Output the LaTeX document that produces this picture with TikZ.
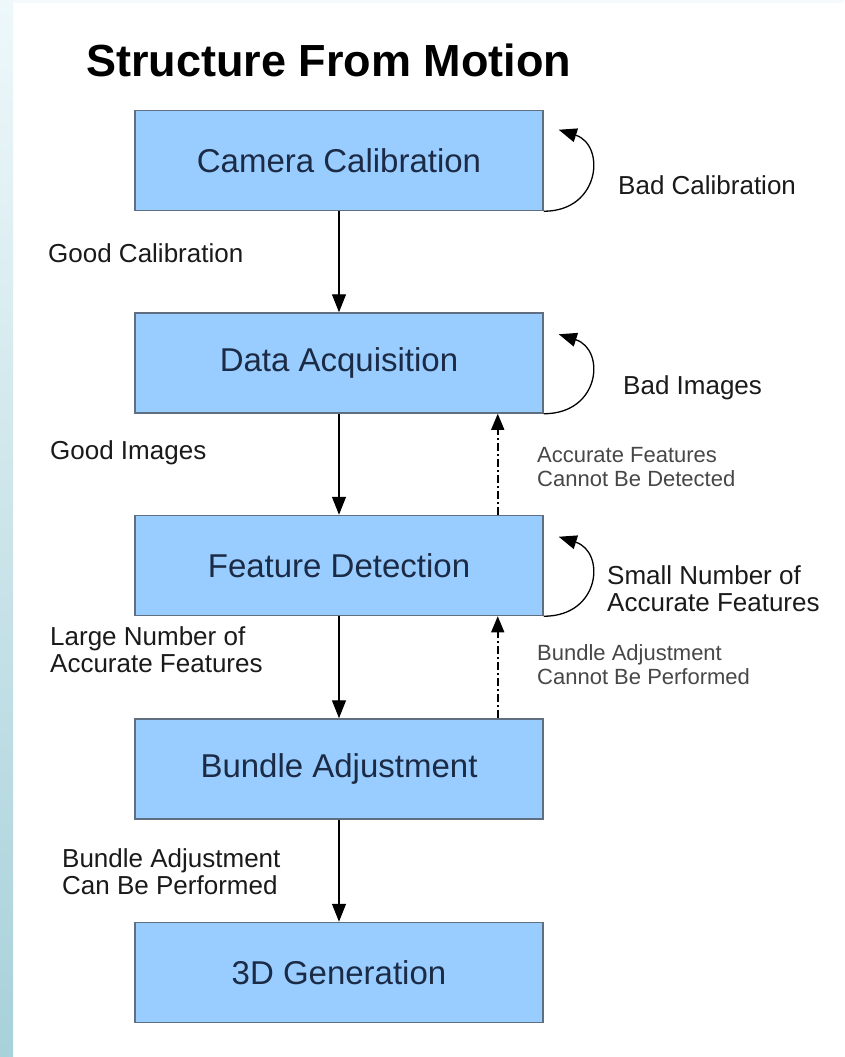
\documentclass[tikz,border=0pt]{standalone}
\usepackage{fontspec}
\setmainfont{Liberation Sans}
\usetikzlibrary{arrows.meta,calc}
\definecolor{boxfill}{HTML}{99CCFF}
\definecolor{boxline}{HTML}{5F6F80}
\definecolor{boxtext}{HTML}{1C2B45}
\definecolor{glabel}{HTML}{474747}
\definecolor{dlabel}{HTML}{1A1A1A}
\definecolor{bartop}{HTML}{EEF8FA}
\definecolor{barbot}{HTML}{A8D1DA}
\begin{document}
\begin{tikzpicture}[x=1pt,y=-1pt,
  stagebox/.style={draw=boxline, line width=1.5pt, fill=boxfill, minimum width=408pt, minimum height=100pt, inner sep=0pt, text=boxtext, font=\fontsize{33}{36}\selectfont},
  lbl/.style={anchor=west, align=left, inner sep=0pt, text=dlabel, font=\fontsize{26}{27}\selectfont},
  glbl/.style={anchor=west, align=left, inner sep=0pt, text=glabel, font=\fontsize{22}{24}\selectfont},
  arr/.style={line width=1.3pt, -{Triangle[length=18pt,width=14pt]}},
  darr/.style={line width=1.5pt, dash pattern=on 8pt off 3pt on 2pt off 3pt, -{Triangle[length=16pt,width=13pt]}},
  looparr/.style={line width=1.3pt, -{Triangle[length=18pt,width=14pt]}}]
% background and frame
\fill[white] (0,0) rectangle (844,1057);
\useasboundingbox (0,0) rectangle (844,1057);
\shade[top color=bartop, bottom color=barbot] (0,0) rectangle (13,1057);
\fill[bartop!60!white] (13,0) rectangle (844,3);
% title
\node[anchor=west, inner sep=0pt, font=\bfseries\fontsize{45}{50}\selectfont] (title) at (86,60) {Structure From Motion};
% stages
\node[stagebox] (b1) at (339,160.5) {Camera Calibration};
\node[stagebox] (b2) at (339,363) {Data Acquisition};
\node[stagebox] (b3) at (339,565.5) {Feature Detection};
\node[stagebox] (b4) at (339,769) {Bundle Adjustment};
\node[stagebox] (b5) at (339,972.5) {3D Generation};
% main flow
\draw[arr] (b1) -- (b2);
\draw[arr] (b2) -- (b3);
\draw[arr] (b3) -- (b4);
\draw[arr] (b4) -- (b5);
% self loops
\coordinate (t1) at ($(b1.north east)+(15,20)$);
\coordinate (t2) at ($(b2.north east)+(15,22)$);
\coordinate (t3) at ($(b3.north east)+(15,22)$);
\draw[looparr] (b1.south east) .. controls +(57,0) and +(47,15) .. (t1);
\draw[looparr] (b2.south east) .. controls +(57,0) and +(47,15) .. (t2);
\draw[looparr] (b3.south east) .. controls +(57,0) and +(47,15) .. (t3);
% dashed back arrows
\coordinate (d1s) at ($(b3.north east)+(-46,0)$);
\coordinate (d1e) at ($(b2.south east)+(-46,0)$);
\coordinate (d2s) at ($(b4.north east)+(-46,0)$);
\coordinate (d2e) at ($(b3.south east)+(-46,0)$);
\draw[darr] (d1s) -- (d1e);
\draw[darr] (d2s) -- (d2e);
% labels
\node[lbl] (l1) at (618,185) {Bad Calibration};
\node[lbl] (l2) at (48,253) {Good Calibration};
\node[lbl] (l3) at (623,388) {Bad Images};
\node[lbl] (l4) at (50,453) {Good Images};
\node[glbl] (l5) at (537,467) {Accurate Features\\Cannot Be Detected};
\node[lbl] (l6) at (607,589) {Small Number of\\Accurate Features};
\node[lbl] (l7) at (50,650) {Large Number of\\Accurate Features};
\node[glbl] (l8) at (537,665) {Bundle Adjustment\\Cannot Be Performed};
\node[lbl] (l9) at (62,872) {Bundle Adjustment\\Can Be Performed};
\end{tikzpicture}
\end{document}
